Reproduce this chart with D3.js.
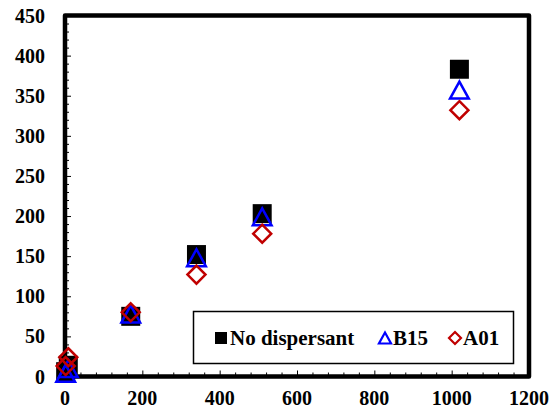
<!DOCTYPE html>
<html>
<head>
<meta charset="utf-8">
<script src="https://cdn.jsdelivr.net/npm/d3@7/dist/d3.min.js"></script>
<style>
  html, body { margin: 0; padding: 0; background: #fff; }
  svg { display: block; }
</style>
</head>
<body>
<svg id="chart" width="555" height="409"></svg>
<script>
// Concentration values (x) shared by all three series
const xValues = [1.7, 8.5, 170, 340, 510, 1020];
const noDispersant = [6, 14, 75, 152, 203, 383];
const b15 = [4, 10, 78, 148, 199, 357];
const a01 = [13, 24, 80, 127, 178, 332];

const xTicks = [0, 200, 400, 600, 800, 1000, 1200];
const yTicks = [0, 50, 100, 150, 200, 250, 300, 350, 400, 450];
const legendLabels = ["No dispersant", "B15", "A01"];

const FONT = '"Liberation Serif"';
const svg = d3.select("#chart");
const plotLeft = 65, plotRight = 529, plotTop = 15.5, plotBottom = 376.5;

const x = d3.scaleLinear().domain([0, 1200]).range([plotLeft, plotRight]);
const y = d3.scaleLinear().domain([0, 450]).range([plotBottom, plotTop]);

// minor ticks (inside the frame)
const yMinor = d3.range(0, 451, 10);
const xMinor = d3.range(0, 1201, 40);

const axisY = d3.axisRight(y).tickValues(yMinor).tickSize(3).tickFormat("");
svg.append("g").attr("transform", `translate(${plotLeft},0)`).call(axisY)
  .call(g => g.select(".domain").remove())
  .call(g => g.selectAll(".tick line").attr("stroke", "#000").attr("stroke-width", 1)
    .attr("x2", d => d % 50 === 0 ? 6 : 4));

const axisX = d3.axisTop(x).tickValues(xMinor).tickSize(3).tickFormat("");
svg.append("g").attr("transform", `translate(0,${plotBottom})`).call(axisX)
  .call(g => g.select(".domain").remove())
  .call(g => g.selectAll(".tick line").attr("stroke", "#000").attr("stroke-width", 1)
    .attr("y2", d => d % 200 === 0 ? -6 : -4));

const styleText = sel => sel.style("font-family", FONT).style("font-weight", "bold").attr("fill", "#000");

// tick labels
svg.append("g").selectAll("text").data(yTicks).join("text")
  .attr("x", 45).attr("y", d => y(d)).attr("dy", "0.35em")
  .attr("text-anchor", "end").attr("font-size", 20).call(styleText).text(d => d);

svg.append("g").selectAll("text").data(xTicks).join("text")
  .attr("x", d => x(d)).attr("y", 405)
  .attr("text-anchor", "middle").attr("font-size", 20).call(styleText).text(d => d);

// plot frame
svg.append("rect")
  .attr("x", plotLeft).attr("y", plotTop)
  .attr("width", plotRight - plotLeft).attr("height", plotBottom - plotTop)
  .attr("fill", "none").attr("stroke", "#000").attr("stroke-width", 4.5)
  .attr("stroke-linejoin", "round");

const sq = d3.symbol().type(d3.symbolSquare).size(19 * 19);
const pts = (vals) => xValues.map((v, i) => [v, vals[i]]);

// black squares
svg.append("g").selectAll("path").data(pts(noDispersant)).join("path")
  .attr("d", sq)
  .attr("transform", d => `translate(${x(d[0])},${y(d[1])})`)
  .attr("fill", "#000");

// blue open triangles
const tri = (s) => `M0,${-s * 0.5}L${s * 0.55},${s * 0.5}L${-s * 0.55},${s * 0.5}Z`;
svg.append("g").selectAll("path").data(pts(b15)).join("path")
  .attr("d", tri(17))
  .attr("transform", d => `translate(${x(d[0])},${y(d[1])})`)
  .attr("fill", "none").attr("stroke", "#0000ff").attr("stroke-width", 2.5);

// red open diamonds
const dia = (s) => `M0,${-s}L${s},0L0,${s}L${-s},0Z`;
svg.append("g").selectAll("path").data(pts(a01)).join("path")
  .attr("d", dia(9))
  .attr("transform", d => `translate(${x(d[0])},${y(d[1])})`)
  .attr("fill", "none").attr("stroke", "#c00000").attr("stroke-width", 2.5);

// legend
const lg = svg.append("g");
lg.append("rect").attr("x", 193.5).attr("y", 311.5).attr("width", 320).attr("height", 52)
  .attr("fill", "#fff").attr("stroke", "#000").attr("stroke-width", 1.5);

const ly = 338;
lg.append("rect").attr("x", 215).attr("y", ly - 6).attr("width", 12).attr("height", 12).attr("fill", "#000");
lg.append("path").attr("d", tri(11)).attr("transform", `translate(385,${ly})`)
  .attr("fill", "none").attr("stroke", "#0000ff").attr("stroke-width", 2.2);
lg.append("path").attr("d", dia(6)).attr("transform", `translate(455,${ly})`)
  .attr("fill", "none").attr("stroke", "#c00000").attr("stroke-width", 2.2);

const lx = [230, 393, 463];
lg.selectAll("text.lab").data(legendLabels).join("text")
  .attr("class", "lab")
  .attr("x", (d, i) => lx[i]).attr("y", ly).attr("dy", "0.35em")
  .attr("font-size", 21).call(styleText).text(d => d);
</script>
</body>
</html>
